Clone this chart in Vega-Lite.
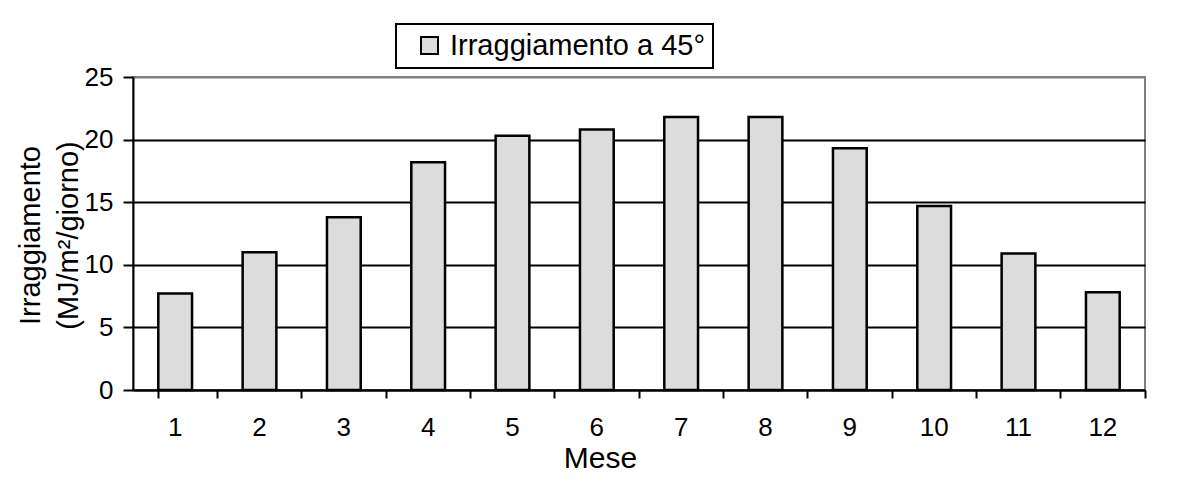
{
  "$schema": "https://vega.github.io/schema/vega-lite/v6.json",
  "width": 1012,
  "height": 313,
  "autosize": {"type": "none"},
  "padding": {"left": 133, "top": 77, "right": 32, "bottom": 101},
  "background": "white",
  "config": {
    "font": "Liberation Sans",
    "view": {"stroke": "#808080", "strokeWidth": 2},
    "legend": {"strokeWidth": 2}
  },
  "data": {
    "values": [
      {"Mese": 1, "Irraggiamento": 7.7},
      {"Mese": 2, "Irraggiamento": 11.0},
      {"Mese": 3, "Irraggiamento": 13.8},
      {"Mese": 4, "Irraggiamento": 18.2},
      {"Mese": 5, "Irraggiamento": 20.3},
      {"Mese": 6, "Irraggiamento": 20.8},
      {"Mese": 7, "Irraggiamento": 21.8},
      {"Mese": 8, "Irraggiamento": 21.8},
      {"Mese": 9, "Irraggiamento": 19.3},
      {"Mese": 10, "Irraggiamento": 14.7},
      {"Mese": 11, "Irraggiamento": 10.9},
      {"Mese": 12, "Irraggiamento": 7.8}
    ]
  },
  "mark": {"type": "bar", "stroke": "black", "strokeWidth": 2.5},
  "encoding": {
    "x": {
      "field": "Mese",
      "type": "ordinal",
      "scale": {"paddingInner": 0.6, "paddingOuter": 0.3},
      "axis": {
        "title": "Mese",
        "labelAngle": 0,
        "bandPosition": 1.75,
        "tickExtra": true,
        "grid": false,
        "domainColor": "black",
        "domainWidth": 2,
        "tickColor": "black",
        "tickWidth": 2,
        "tickSize": 8,
        "labelFontSize": 26,
        "labelColor": "black",
        "labelPadding": 16,
        "titleFontSize": 30,
        "titleFontWeight": "normal",
        "titleColor": "black",
        "titlePadding": 3,
        "titleX": 467
      }
    },
    "y": {
      "field": "Irraggiamento",
      "type": "quantitative",
      "scale": {"domain": [0, 25], "nice": false},
      "axis": {
        "values": [0, 5, 10, 15, 20, 25],
        "title": ["Irraggiamento", "(MJ/m²/giorno)"],
        "grid": true,
        "gridColor": {"condition": {"test": "datum.value === 25", "value": "#808080"}, "value": "black"},
        "gridWidth": 2,
        "gridOpacity": 1,
        "domainColor": "black",
        "domainWidth": 2,
        "tickColor": "black",
        "tickWidth": 2,
        "tickSize": 10,
        "labelFontSize": 26,
        "labelColor": "black",
        "labelPadding": 10,
        "titleFontSize": 29,
        "titleFontWeight": "normal",
        "titleColor": "black",
        "titleAngle": -90,
        "titleX": -117,
        "titleY": 158,
        "titleBaseline": "top",
        "titleAlign": "center",
        "titleLineHeight": 38
      }
    },
    "color": {
      "datum": "Irraggiamento a 45°",
      "type": "nominal",
      "scale": {"range": ["#dcdcdc"]},
      "legend": {
        "title": null,
        "orient": "none",
        "legendX": 263,
        "legendY": -53,
        "labelFontSize": 29,
        "labelColor": "black",
        "labelLimit": 500,
        "labelExpr": "datum.label + '\u00a0\u00a0'",
        "symbolType": "square",
        "symbolSize": 289,
        "symbolStrokeColor": "black",
        "symbolStrokeWidth": 2,
        "strokeColor": "black",
        "padding": 7,
        "symbolOffset": 12,
        "labelOffset": 6
      }
    }
  }
}
